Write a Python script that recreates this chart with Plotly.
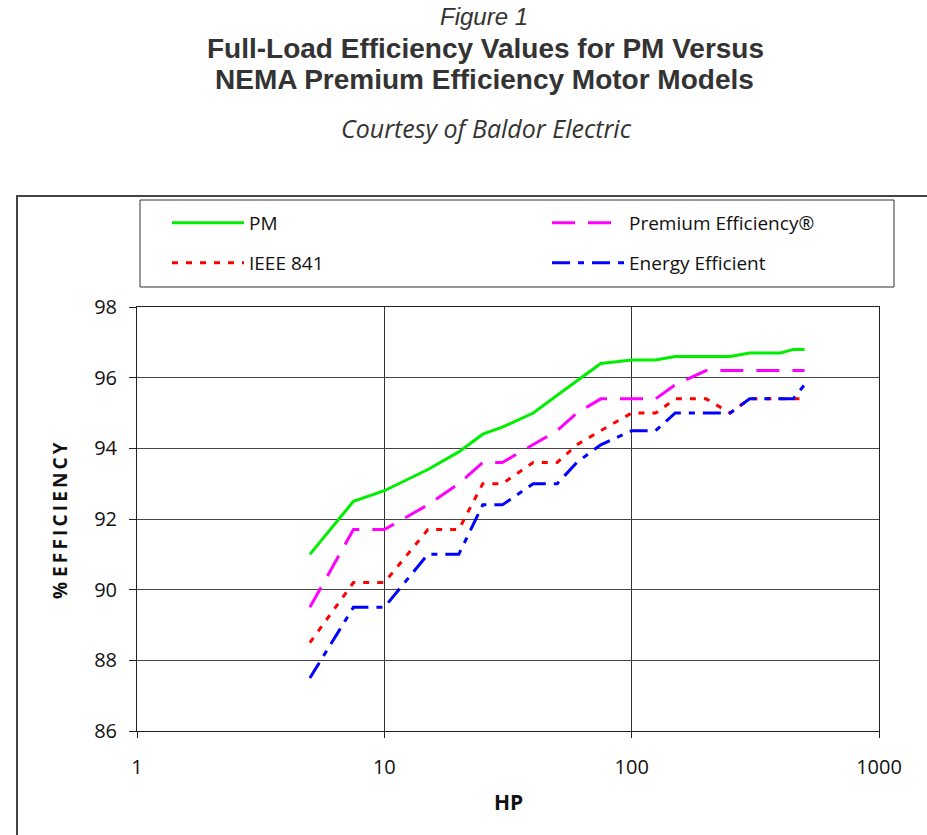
import plotly.graph_objects as go

hp = [5, 7.5, 10, 15, 20, 25, 30, 40, 50, 60, 75, 100, 125, 150, 200, 250, 300, 400, 450, 500]
pm = [91.0, 92.5, 92.8, 93.4, 93.9, 94.4, 94.6, 95.0, 95.5, 95.9, 96.4, 96.5, 96.5, 96.6, 96.6, 96.6, 96.7, 96.7, 96.8, 96.8]
premium = [89.5, 91.7, 91.7, 92.4, 93.0, 93.6, 93.6, 94.1, 94.5, 95.0, 95.4, 95.4, 95.4, 95.8, 96.2, 96.2, 96.2, 96.2, 96.2, 96.2]
ieee841 = [88.5, 90.2, 90.2, 91.7, 91.7, 93.0, 93.0, 93.6, 93.6, 94.1, 94.5, 95.0, 95.0, 95.4, 95.4, 95.0, 95.4, 95.4, 95.4, 95.4]
energy = [87.5, 89.5, 89.5, 91.0, 91.0, 92.4, 92.4, 93.0, 93.0, 93.6, 94.1, 94.5, 94.5, 95.0, 95.0, 95.0, 95.4, 95.4, 95.4, 95.8]

x_ticks = [1, 10, 100, 1000]
y_ticks = [86, 88, 90, 92, 94, 96, 98]

FONT = "Open Sans, sans-serif"
TFONT = "Liberation Sans, Arial, sans-serif"

# plot area in pixels: left 137, right 879, top 307, bottom 731
def px(x):
    return (x - 137) / 742.0

def py(y):
    return (731 - y) / 424.0

fig = go.Figure()
fig.add_trace(go.Scatter(x=hp, y=pm, name="PM", mode="lines", legend="legend",
                         line=dict(color="#00ee00", width=3)))
fig.add_trace(go.Scatter(x=hp, y=premium, name="Premium Efficiency®", mode="lines", legend="legend2",
                         line=dict(color="#ff00ff", width=3, dash="23px,13px")))
fig.add_trace(go.Scatter(x=hp, y=ieee841, name="IEEE 841", mode="lines", legend="legend3",
                         line=dict(color="#ff0000", width=3, dash="6px,8px")))
fig.add_trace(go.Scatter(x=hp, y=energy, name="Energy Efficient", mode="lines", legend="legend4",
                         line=dict(color="#0000ff", width=3, dash="18px,8px,6px,8px")))

def leg(x, y):
    return dict(x=px(x), y=py(y), xanchor="left", yanchor="middle",
                orientation="h", borderwidth=0, bgcolor="rgba(0,0,0,0)",
                font=dict(family=FONT, size=19, color="#111111"), itemwidth=72)

fig.update_layout(
    width=927, height=835,
    margin=dict(l=137, r=48, t=307, b=104),
    paper_bgcolor="white", plot_bgcolor="white",
    font=dict(family=FONT, color="#111111", size=19),
    showlegend=True,
    legend=leg(167, 223),
    legend2=leg(547, 223),
    legend3=leg(167, 263),
    legend4=leg(547, 263),
    xaxis=dict(type="log", range=[0, 3], tickvals=x_ticks, ticktext=[str(v) for v in x_ticks],
               showgrid=True, gridcolor="#333333", gridwidth=1,
               showline=True, linecolor="#222222", linewidth=1, mirror=True,
               ticks="outside", ticklen=6, tickcolor="#222222", zeroline=False,
               tickfont=dict(size=20), ticklabelstandoff=12),
    yaxis=dict(range=[86, 98], tickvals=y_ticks,
               showgrid=True, gridcolor="#444444", gridwidth=1,
               showline=True, linecolor="#222222", linewidth=1, mirror=True,
               ticks="outside", ticklen=7, tickcolor="#222222", zeroline=False,
               tickfont=dict(size=20), ticklabelstandoff=8),
    shapes=[
        dict(type="rect", xref="paper", yref="paper",
             x0=px(17), y0=py(845), x1=px(940), y1=py(196),
             line=dict(color="#444444", width=2), layer="below"),
        dict(type="rect", xref="paper", yref="paper",
             x0=px(140), y0=py(287), x1=px(894), y1=py(200),
             line=dict(color="#333333", width=1), fillcolor="white", layer="below"),
    ],
    annotations=[
        dict(text="<i>Figure 1</i>", x=px(484), y=py(16), font=dict(size=24, family=TFONT)),
        dict(text="<b>Full-Load Efficiency Values for PM Versus</b>", x=px(485), y=py(48),
             font=dict(size=28, family=TFONT)),
        dict(text="<b>NEMA Premium Efficiency Motor Models</b>", x=px(484), y=py(80),
             font=dict(size=28, family=TFONT)),
        dict(text="<i>Courtesy of Baldor Electric</i>", x=px(486), y=py(128),
             font=dict(size=25, family=FONT)),
        dict(text="<b>HP</b>", x=px(508), y=py(802), font=dict(size=21, color="#111111", family=FONT)),
        dict(text="<b>% E\u2009F\u2009F\u2009I\u2009C\u2009I\u2009E\u2009N\u2009C\u2009Y</b>",
             x=px(60), y=py(521), textangle=-90, font=dict(size=19, color="#111111", family=FONT)),
    ],
)
for a in fig.layout.annotations:
    a.update(xref="paper", yref="paper", xanchor="center", yanchor="middle", showarrow=False)
    if a.font.color is None:
        a.font.color = "#333333"

fig.write_html("out.html", config={"displayModeBar": False},
               post_script="document.body.style.margin='0px';")
